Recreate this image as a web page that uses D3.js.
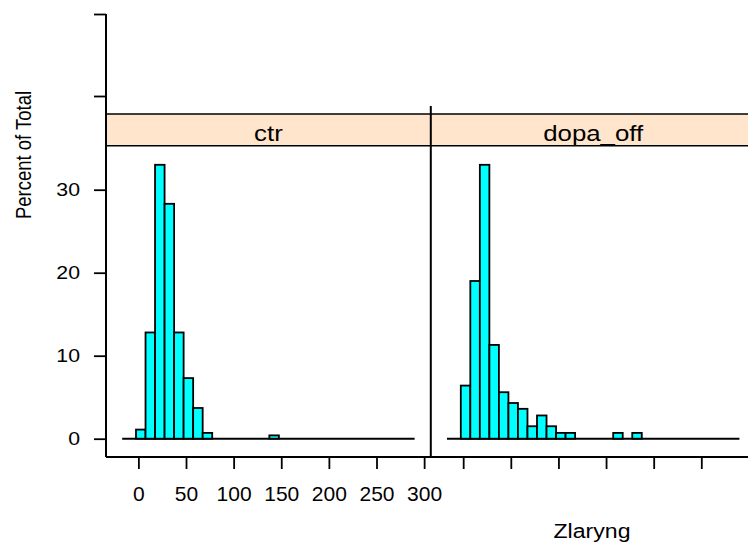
<!DOCTYPE html>
<html>
<head>
<meta charset="utf-8">
<script src="https://cdn.jsdelivr.net/npm/d3@7"></script>
<style>
  body { margin: 0; background: #fff; }
  text { font-family: "Liberation Sans", Arial, sans-serif; fill: #000; }
</style>
</head>
<body>
<div id="chart"></div>
<script>
// panels and shared bin edges (width 10, starting at -2.5)
const panels = ["ctr", "dopa_off"];
const binStart = -2.5, binWidth = 10;
// percent of total per bin
const ctrPct = [1.1, 12.8, 33.0, 28.3, 12.8, 7.3, 3.7, 0.7, 0, 0, 0, 0, 0, 0, 0.4];
const dopaPct = [6.4, 19.0, 33.0, 11.3, 5.6, 4.3, 3.6, 1.5, 2.8, 1.5, 0.7, 0.7, 0, 0, 0, 0, 0.7, 0, 0.7];
const xTicks = [0, 50, 100, 150, 200, 250, 300];
const yTicks = [0, 10, 20, 30];
const yTicksTop = [40, 50];   // unlabelled ticks above the strip
const baseRange = [-17, 290];

/** CONSTANTS */
const width = 748, height = 547,
  margin = { left: 106, top: 14, bottom: 90 },
  panelW = 324.8,
  stripTop = 114, stripBot = 145.7,
  axisY = 457;

/** SCALES */
const xScale = d3.scaleLinear().domain([-34, 307]).range([0, panelW]);
const yScale = d3.scaleLinear().domain([0, 10]).range([438.7, 355.7]);
const yTopScale = d3.scaleLinear().domain([40, 50]).range([96, 14]);

const svg = d3.select("#chart").append("svg")
  .attr("width", width).attr("height", height);

const series = [ctrPct, dopaPct];

panels.forEach((name, p) => {
  const g = svg.append("g").attr("transform", `translate(${margin.left + p * panelW},0)`);
  const bins = series[p].map((v, i) => ({ x0: binStart + i * binWidth, x1: binStart + (i + 1) * binWidth, v }))
    .filter(d => d.v > 0);

  // baseline
  g.append("line")
    .attr("x1", xScale(baseRange[0])).attr("x2", xScale(baseRange[1]))
    .attr("y1", yScale(0)).attr("y2", yScale(0))
    .attr("stroke", "#000").attr("stroke-width", 2);

  g.selectAll("rect.bar")
    .data(bins)
    .join("rect")
    .attr("class", "bar")
    .attr("x", d => xScale(d.x0))
    .attr("width", d => xScale(d.x1) - xScale(d.x0))
    .attr("y", d => yScale(d.v))
    .attr("height", d => yScale(0) - yScale(d.v))
    .attr("fill", "#00ffff")
    .attr("stroke", "#000")
    .attr("stroke-width", 1.8);

  // strip
  g.append("rect")
    .attr("x", 0).attr("width", panelW)
    .attr("y", stripTop).attr("height", stripBot - stripTop)
    .attr("fill", "#ffe5cc");
  g.append("line").attr("x1", 0).attr("x2", panelW).attr("y1", stripTop).attr("y2", stripTop)
    .attr("stroke", "#000").attr("stroke-width", 1.6);
  g.append("line").attr("x1", 0).attr("x2", panelW).attr("y1", stripBot).attr("y2", stripBot)
    .attr("stroke", "#000").attr("stroke-width", 1.6);
  g.append("text")
    .attr("transform", `translate(${panelW / 2},141) scale(1.2,1)`)
    .attr("text-anchor", "middle")
    .style("font-size", "21.5px")
    .text(name);

  // x axis ticks
  const xAxis = d3.axisBottom(xScale).tickValues(xTicks).tickSize(12).tickSizeOuter(0)
    .tickFormat(p === 0 ? d3.format("d") : "");
  const ax = g.append("g").attr("transform", `translate(0,${axisY})`).call(xAxis);
  ax.select(".domain").remove();
  ax.selectAll(".tick line").attr("stroke", "#000").attr("stroke-width", 1.8);
  ax.selectAll(".tick text").attr("y", 44).style("font-size", "21px").attr("dy", null);
});

// bottom axis line
svg.append("line").attr("x1", margin.left).attr("x2", width)
  .attr("y1", axisY).attr("y2", axisY).attr("stroke", "#000").attr("stroke-width", 2);
// divider between panels
svg.append("line").attr("x1", margin.left + panelW).attr("x2", margin.left + panelW)
  .attr("y1", 106).attr("y2", axisY).attr("stroke", "#000").attr("stroke-width", 2);

// left axis
svg.append("line").attr("x1", margin.left).attr("x2", margin.left)
  .attr("y1", margin.top).attr("y2", axisY).attr("stroke", "#000").attr("stroke-width", 2);
const yAxis = d3.axisLeft(yScale).tickValues(yTicks).tickSize(12).tickSizeOuter(0);
const ay = svg.append("g").attr("transform", `translate(${margin.left},0)`).call(yAxis);
ay.select(".domain").remove();
ay.selectAll(".tick line").attr("stroke", "#000").attr("stroke-width", 1.8);
ay.selectAll(".tick text")
  .attr("x", 0)
  .attr("transform", "translate(-26,0) scale(1.15,1)")
  .style("font-size", "18.5px");

const yAxisTop = d3.axisLeft(yTopScale).tickValues(yTicksTop).tickSize(12).tickFormat("");
const ayt = svg.append("g").attr("transform", `translate(${margin.left},0)`).call(yAxisTop);
ayt.select(".domain").remove();
ayt.selectAll(".tick line").attr("stroke", "#000").attr("stroke-width", 1.8);

// axis titles
svg.append("text")
  .attr("transform", "translate(31,155) rotate(-90) scale(1,1.2)")
  .attr("text-anchor", "middle")
  .style("font-size", "18.5px")
  .text("Percent of Total");
svg.append("text")
  .attr("transform", "translate(592,538) scale(1.1,1)")
  .attr("text-anchor", "middle")
  .style("font-size", "21px")
  .text("Zlaryng");
</script>
</body>
</html>
